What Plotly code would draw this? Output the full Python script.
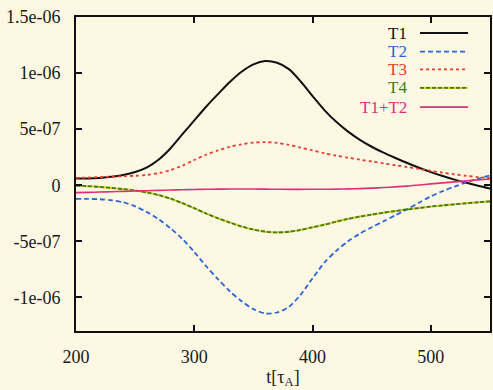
import plotly.graph_objects as go

t = [200, 210, 220, 230, 240, 250, 260, 270, 280, 290, 300, 310, 320, 330, 340, 350, 360, 370,
     380, 390, 400, 410, 420, 430, 440, 450, 460, 470, 480, 490, 500, 510, 520, 530, 540, 550]

T1 = [0.060, 0.060, 0.065, 0.075, 0.092, 0.118, 0.160, 0.230, 0.330, 0.455, 0.578, 0.700,
      0.812, 0.920, 1.012, 1.078, 1.108, 1.092, 1.035, 0.925, 0.795, 0.670, 0.565, 0.478,
      0.405, 0.343, 0.290, 0.243, 0.198, 0.156, 0.117, 0.082, 0.050, 0.022, -0.005, -0.030]
T2 = [-0.122, -0.122, -0.125, -0.134, -0.152, -0.188, -0.240, -0.305, -0.385, -0.480, -0.595,
      -0.722, -0.838, -0.945, -1.035, -1.105, -1.143, -1.135, -1.085, -0.975, -0.830, -0.690,
      -0.585, -0.500, -0.432, -0.375, -0.322, -0.268, -0.214, -0.156, -0.100, -0.052, -0.012,
      0.025, 0.058, 0.088]
T3 = [0.065, 0.068, 0.072, 0.077, 0.080, 0.084, 0.092, 0.108, 0.135, 0.175, 0.225, 0.272,
      0.310, 0.342, 0.365, 0.380, 0.384, 0.377, 0.360, 0.335, 0.310, 0.285, 0.263, 0.245,
      0.228, 0.212, 0.195, 0.178, 0.162, 0.145, 0.128, 0.112, 0.097, 0.084, 0.072, 0.062]
T4 = [-0.003, -0.008, -0.015, -0.024, -0.035, -0.047, -0.065, -0.088, -0.120, -0.160, -0.205,
      -0.252, -0.295, -0.333, -0.368, -0.395, -0.414, -0.421, -0.415, -0.398, -0.375, -0.352,
      -0.325, -0.300, -0.280, -0.262, -0.245, -0.230, -0.216, -0.203, -0.190, -0.180, -0.170,
      -0.161, -0.152, -0.144]
T12 = [-0.066, -0.064, -0.061, -0.058, -0.055, -0.052, -0.049, -0.046, -0.043, -0.040, -0.038,
       -0.036, -0.035, -0.034, -0.034, -0.034, -0.035, -0.036, -0.037, -0.037, -0.036, -0.036,
       -0.035, -0.033, -0.030, -0.026, -0.021, -0.015, -0.008, 0.002, 0.012, 0.021, 0.030,
       0.039, 0.048, 0.056]

scale = 1e-6
names = ["T1", "T2", "T3", "T4", "T1+T2"]
xticks = [200, 300, 400, 500]
yticks = [1.5e-6, 1e-6, 5e-7, 0, -5e-7, -1e-6]
yticktext = ["1.5e-06", "1e-06", "5e-07", "0", "-5e-07", "-1e-06"]

BG = "#fcf8e4"
FONT = "Liberation Serif, DejaVu Serif, serif"
colors = ["#111111", "#2a66d4", "#ee3a2a", "#3f7d1c", "#e0307a"]
dashes = ["solid", "5px,3px", "dot", "4px,2px", "solid"]
widths = [2, 1.8, 1.8, 1.8, 1.6]

fig = go.Figure()
series = [T1, T2, T3, T4, T12]
# yellow underlay for T4 (as in the original rendering)
fig.add_trace(go.Scatter(x=t, y=[v * scale for v in T4], mode="lines",
                         line=dict(color="#d9d23a", width=2.2, shape="spline", smoothing=0.8),
                         showlegend=False, hoverinfo="skip"))
for name, s, c, d, w in zip(names, series, colors, dashes, widths):
    fig.add_trace(go.Scatter(x=t, y=[v * scale for v in s], mode="lines", name=name,
                             line=dict(color=c, dash=d, width=w, shape="spline", smoothing=0.8),
                             showlegend=False))

# gnuplot-style legend: right-aligned label, sample line to its right
ys = [0.949, 0.890, 0.833, 0.774, 0.713]
for name, c, d, w, yy in zip(names, colors, dashes, widths, ys):
    fig.add_annotation(x=0.805, y=yy, xref="paper", yref="paper", text=name,
                       showarrow=False, xanchor="right", yanchor="middle",
                       font=dict(family=FONT, size=17, color=c))
    if name == "T4":
        fig.add_shape(type="line", xref="paper", yref="paper", x0=0.831, x1=0.947, y0=yy, y1=yy,
                      line=dict(color="#d9d23a", width=2.2))
    fig.add_shape(type="line", xref="paper", yref="paper", x0=0.831, x1=0.947, y0=yy, y1=yy,
                  line=dict(color=c, width=w, dash=d))

axis_common = dict(showline=True, linecolor="#111111", linewidth=2, mirror="ticks",
                   ticks="inside", ticklen=6, tickwidth=1.5, tickcolor="#111111",
                   showgrid=False, zeroline=False,
                   tickfont=dict(family=FONT, size=18, color="#1a1a1a"))

fig.update_layout(
    width=493, height=390,
    margin=dict(l=76, r=1, t=17, b=59),
    paper_bgcolor=BG, plot_bgcolor=BG,
    showlegend=False,
    xaxis=dict(range=[200, 550], tickvals=xticks, ticklabelstandoff=8,
               title=dict(text="t[τ<sub>A</sub>]", font=dict(family=FONT, size=18, color="#1a1a1a"),
                          standoff=4),
               **axis_common),
    yaxis=dict(range=[-1.3e-6, 1.5e-6], tickvals=yticks, ticktext=yticktext,
               ticklabelstandoff=10, **axis_common),
)

fig.write_html("out.html")
